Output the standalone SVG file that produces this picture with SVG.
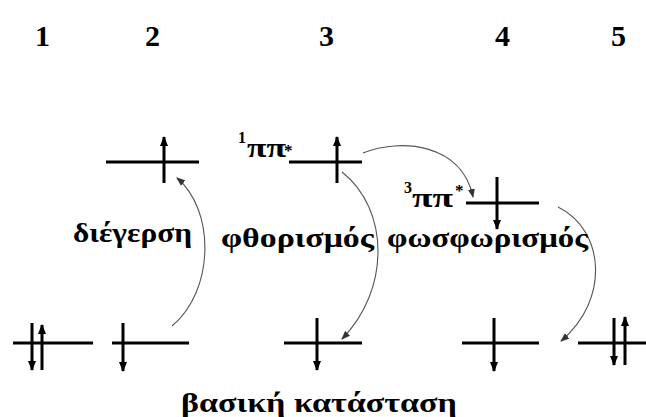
<svg xmlns="http://www.w3.org/2000/svg" width="646" height="417" viewBox="0 0 646 417">
<defs>
<marker id="ah" markerUnits="userSpaceOnUse" markerWidth="10" markerHeight="8" refX="9" refY="4" orient="auto"><path d="M0,0 L10,4 L0,8 z" fill="#000"/></marker>
<marker id="sh" markerUnits="userSpaceOnUse" markerWidth="9" markerHeight="7" refX="8" refY="3.5" orient="auto"><path d="M0,0 L9,3.5 L0,7 z" fill="#333"/></marker>
</defs>
<rect width="646" height="417" fill="#fff"/>
<g id="numbers" font-family="Liberation Serif" font-weight="bold" font-size="30" fill="#000">
<text x="35" y="46" style="font-family:'Liberation Serif';font-weight:bold">1</text>
<text x="145" y="46" style="font-family:'Liberation Serif';font-weight:bold">2</text>
<text x="319" y="46" style="font-family:'Liberation Serif';font-weight:bold">3</text>
<text x="495" y="46" style="font-family:'Liberation Serif';font-weight:bold">4</text>
<text x="611" y="46" style="font-family:'Liberation Serif';font-weight:bold">5</text>
</g>
<g id="level2-excited" stroke="#000" stroke-width="3" fill="none">
<line x1="106" y1="162" x2="199" y2="162"/>
<line x1="164" y1="183" x2="164" y2="137" marker-end="url(#ah)"/>
</g>
<g id="level3-singlet">
<text style="font-family:'Liberation Serif';font-weight:bold" fill="#000"><tspan x="238" y="143" font-size="16">1</tspan><tspan x="247" y="157" font-size="27" textLength="39" lengthAdjust="spacingAndGlyphs">ππ</tspan><tspan x="284" y="156" font-size="17">*</tspan></text>
<g stroke="#000" stroke-width="3" fill="none">
<line x1="289" y1="162" x2="362" y2="162"/>
<line x1="337" y1="183" x2="337" y2="137" marker-end="url(#ah)"/>
</g>
</g>
<g id="level4-triplet">
<text style="font-family:'Liberation Serif';font-weight:bold" fill="#000"><tspan x="404" y="193" font-size="16">3</tspan><tspan x="412" y="207" font-size="27" textLength="41" lengthAdjust="spacingAndGlyphs">ππ</tspan><tspan x="455" y="196" font-size="17">*</tspan></text>
<g stroke="#000" stroke-width="3" fill="none">
<line x1="466" y1="203" x2="539" y2="203"/>
<line x1="497" y1="177" x2="497" y2="229" marker-end="url(#ah)"/>
</g>
</g>
<g id="ground1" stroke="#000" stroke-width="3" fill="none">
<line x1="13" y1="343" x2="93" y2="343"/>
<line x1="32" y1="323" x2="32" y2="370" marker-end="url(#ah)"/>
<line x1="42" y1="370" x2="42" y2="325" marker-end="url(#ah)"/>
</g>
<g id="ground2" stroke="#000" stroke-width="3" fill="none">
<line x1="112" y1="343" x2="189" y2="343"/>
<line x1="123" y1="323" x2="123" y2="371" marker-end="url(#ah)"/>
</g>
<g id="ground3" stroke="#000" stroke-width="3" fill="none">
<line x1="284" y1="343" x2="362" y2="343"/>
<line x1="317" y1="318" x2="317" y2="370" marker-end="url(#ah)"/>
</g>
<g id="ground4" stroke="#000" stroke-width="3" fill="none">
<line x1="462" y1="343" x2="539" y2="343"/>
<line x1="494" y1="318" x2="494" y2="371" marker-end="url(#ah)"/>
</g>
<g id="ground5" stroke="#000" stroke-width="3" fill="none">
<line x1="578" y1="343" x2="646" y2="343"/>
<line x1="614" y1="318" x2="614" y2="365" marker-end="url(#ah)"/>
<line x1="625" y1="365" x2="625" y2="317" marker-end="url(#ah)"/>
</g>
<g id="connectors" stroke="#555" stroke-width="1.1" fill="none">
<path d="M172,326 C215,290 215,210 177,178" marker-end="url(#sh)"/>
<path d="M342,172 C390,210 390,290 342,339" marker-end="url(#sh)"/>
<path d="M363,153 C400,138 462,143 473,197" marker-end="url(#sh)"/>
<path d="M558,207 C605,230 610,300 561,341" marker-end="url(#sh)"/>
</g>
<g id="labels" fill="#000" font-size="27">
<text x="73" y="242" style="font-family:'Liberation Serif';font-weight:bold" textLength="119" lengthAdjust="spacingAndGlyphs">διέγερση</text>
<text x="221" y="247" style="font-family:'Liberation Serif';font-weight:bold" textLength="153" lengthAdjust="spacingAndGlyphs">φθορισμός</text>
<text x="387" y="247" style="font-family:'Liberation Serif';font-weight:bold" textLength="201" lengthAdjust="spacingAndGlyphs">φωσφωρισμός</text>
<text x="181" y="412" style="font-family:'Liberation Serif';font-weight:bold" textLength="276" lengthAdjust="spacingAndGlyphs">βασική κατάσταση</text>
</g>
</svg>
